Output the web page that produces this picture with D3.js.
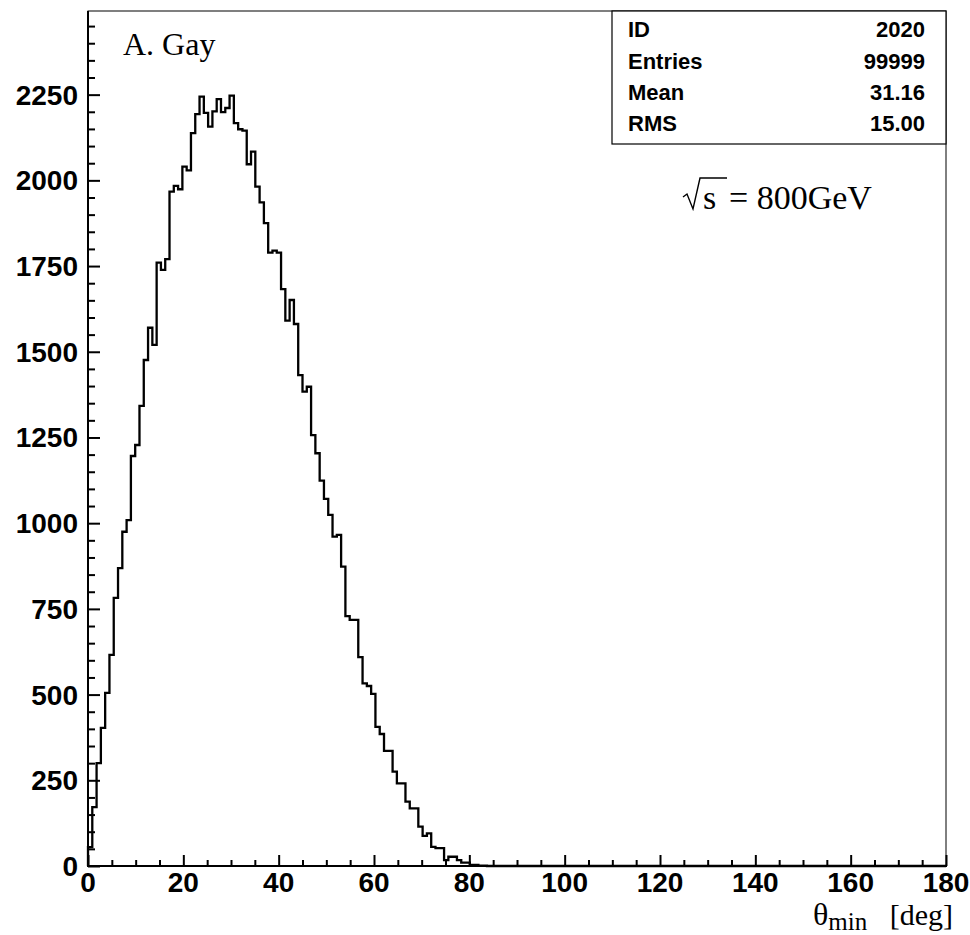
<!DOCTYPE html>
<html>
<head>
<meta charset="utf-8">
<script src="https://cdn.jsdelivr.net/npm/d3@7"></script>
<style>
  html, body { margin: 0; padding: 0; background: #fff; }
  svg { display: block; }
</style>
</head>
<body>
<svg id="chart" width="970" height="935"></svg>
<script>
// ---- data (200 bins of 0.9 deg over 0..180) ----
const binLow = 0;
const binHigh = 180;
const nBins = 200;
const binCounts = [
  55, 172, 300, 403, 505, 616, 782, 869, 975, 1009,
  1196, 1228, 1342, 1476, 1570, 1520, 1760, 1739, 1770, 1967,
  1984, 1974, 2040, 2029, 2138, 2193, 2244, 2197, 2157, 2201,
  2237, 2199, 2211, 2247, 2167, 2149, 2145, 2047, 2084, 1982,
  1936, 1875, 1789, 1795, 1789, 1683, 1591, 1651, 1581, 1432,
  1384, 1398, 1257, 1204, 1124, 1071, 1024, 961, 966, 873,
  729, 718, 718, 609, 533, 525, 502, 406, 385, 336,
  336, 275, 241, 241, 188, 168, 168, 115, 88, 95,
  56, 52, 52, 17, 27, 27, 17, 10, 10, 3,
  3, 1, 1
];
const xTickValues = [0, 20, 40, 60, 80, 100, 120, 140, 160, 180];
const yTickValues = [0, 250, 500, 750, 1000, 1250, 1500, 1750, 2000, 2250];
const statLabels = ["ID", "Entries", "Mean", "RMS"];
const statValues = ["2020", "99999", "31.16", "15.00"];
const yMax = 2494;

// ---- layout ----
const svg = d3.select("#chart");
const L = 88, R = 946, T = 11, B = 866;
const x = d3.scaleLinear().domain([binLow, binHigh]).range([L, R]);
const y = d3.scaleLinear().domain([0, yMax]).range([B, T]);
const binW = (binHigh - binLow) / nBins;

// frame (top/right thin)
svg.append("rect").attr("x", L).attr("y", T).attr("width", R - L).attr("height", B - T)
  .attr("fill", "none").attr("stroke", "#000").attr("stroke-width", 1);

// histogram
const pts = [[binLow, 0]];
for (let i = 0; i < nBins; i++) {
  const v = i < binCounts.length ? binCounts[i] : 0;
  pts.push([binLow + i * binW, v]);
  pts.push([binLow + (i + 1) * binW, v]);
}
const line = d3.line().x(d => x(d[0])).y(d => y(d[1]));
svg.append("path").attr("d", line(pts)).attr("fill", "none")
  .attr("stroke", "#000").attr("stroke-width", 2.3).attr("stroke-linejoin", "miter");

// axes
const fontAxis = "'Liberation Sans', Arial, Helvetica, sans-serif";
const gx = svg.append("g").attr("transform", `translate(0,${B})`);
gx.call(d3.axisTop(x).tickValues(d3.range(0, 181, 5)).tickSize(6).tickFormat(""));
gx.selectAll(".tick line").attr("stroke-width", 2)
  .attr("y2", d => d % 20 === 0 ? -11 : -6);
gx.select(".domain").remove();
gx.append("line").attr("x1", L - 1).attr("x2", R + 1).attr("stroke", "#000").attr("stroke-width", 2);
svg.append("g").selectAll("text").data(xTickValues).join("text")
  .attr("x", d => x(d)).attr("y", 892).attr("text-anchor", "middle")
  .attr("font-family", fontAxis).attr("font-weight", "bold").attr("font-size", 28)
  .text(d => d);

const gy = svg.append("g").attr("transform", `translate(${L},0)`);
gy.call(d3.axisRight(y).tickValues(d3.range(0, 2451, 50)).tickSize(7).tickFormat(""));
gy.selectAll(".tick line").attr("stroke-width", 2)
  .attr("x2", d => d % 250 === 0 ? 12 : 7);
gy.select(".domain").remove();
gy.append("line").attr("y1", T).attr("y2", B + 1).attr("stroke", "#000").attr("stroke-width", 2);
svg.append("g").selectAll("text").data(yTickValues).join("text")
  .attr("x", 78).attr("y", d => y(d) + 10).attr("text-anchor", "end")
  .attr("font-family", fontAxis).attr("font-weight", "bold").attr("font-size", 28)
  .text(d => d);

// stats box
const boxL = 612, boxB = 144;
svg.append("rect").attr("x", boxL).attr("y", T).attr("width", R - boxL).attr("height", boxB - T)
  .attr("fill", "#fff").attr("stroke", "#000").attr("stroke-width", 1.2);
const rowBase = [37, 68.5, 99.5, 131];
statLabels.forEach((s, i) => {
  svg.append("text").attr("x", 628).attr("y", rowBase[i])
    .attr("font-family", fontAxis).attr("font-weight", "bold").attr("font-size", 22).text(s);
  svg.append("text").attr("x", 925).attr("y", rowBase[i]).attr("text-anchor", "end")
    .attr("font-family", fontAxis).attr("font-weight", "bold").attr("font-size", 22).text(statValues[i]);
});

// serif annotations
const fontSerif = "'Liberation Serif', 'Times New Roman', Times, serif";
svg.append("text").attr("x", 123).attr("y", 55)
  .attr("font-family", fontSerif).attr("font-size", 32).text("A. Gay");

// sqrt(s) = 800GeV
svg.append("path").attr("d", "M683,197 L687,194 L693,209 L700,178 L727,178")
  .attr("fill", "none").attr("stroke", "#000").attr("stroke-width", 1.4);
svg.append("text").attr("x", 703).attr("y", 209)
  .attr("font-family", fontSerif).attr("font-size", 34).text("s");
svg.append("text").attr("x", 729).attr("y", 209)
  .attr("font-family", fontSerif).attr("font-size", 34).text("= 800GeV");

// x-axis title
const xt = svg.append("text").attr("x", 813).attr("y", 924.5)
  .attr("font-family", fontSerif).attr("font-size", 32);
xt.append("tspan").text("\u03B8");
xt.append("tspan").attr("font-size", 25).attr("dy", 5).text("min");
svg.append("text").attr("x", 953).attr("y", 924.5).attr("text-anchor", "end")
  .attr("font-family", fontSerif).attr("font-size", 30).text("[deg]");
</script>
</body>
</html>
